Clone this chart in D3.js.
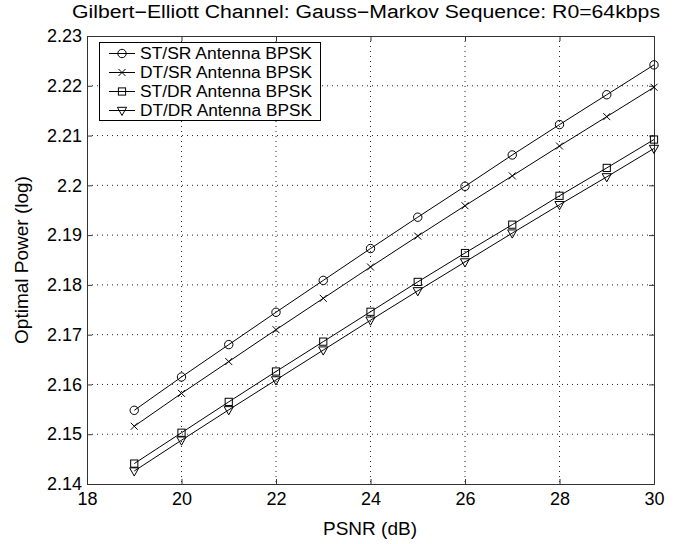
<!DOCTYPE html>
<html>
<head>
<meta charset="utf-8">
<title>Gilbert-Elliott Channel</title>
<style>
	body { margin: 0; background: #fff; }
	text { font-family: "Liberation Sans", Arial, sans-serif; fill: #000; }
	.grid line { stroke: #222; stroke-width: 1; stroke-dasharray: 1,4; }
	.series { fill: none; stroke: #000; stroke-width: 1; }
	.marker { fill: none; stroke: #000; stroke-width: 1; }
	.axis path, .axis line { stroke: #333; }
</style>
</head>
<body>
<svg class="chart" width="677" height="544"></svg>
<script src="https://d3js.org/d3.v7.min.js"></script>
<script>
var psnr = [19, 20, 21, 22, 23, 24, 25, 26, 27, 28, 29, 30];
var stsr = [2.1548, 2.1615, 2.1680, 2.1745, 2.1809, 2.1873, 2.1936, 2.1998, 2.2061, 2.2122, 2.2182, 2.2242];
var dtsr = [2.1516, 2.1582, 2.1646, 2.1710, 2.1773, 2.1836, 2.1898, 2.1959, 2.2019, 2.2079, 2.2138, 2.2197];
var stdr = [2.1441, 2.1503, 2.1565, 2.1626, 2.1686, 2.1746, 2.1806, 2.1864, 2.1921, 2.1979, 2.2035, 2.2092];
var dtdr = [2.1426, 2.1488, 2.1549, 2.1609, 2.1669, 2.1729, 2.1788, 2.1846, 2.1904, 2.1961, 2.2017, 2.2074];
var seriesNames = ["ST/SR Antenna BPSK", "DT/SR Antenna BPSK", "ST/DR Antenna BPSK", "DT/DR Antenna BPSK"];
var xTicks = [18, 20, 22, 24, 26, 28, 30];
var yTicks = [2.14, 2.15, 2.16, 2.17, 2.18, 2.19, 2.2, 2.21, 2.22, 2.23];
var yTickLabels = ["2.14", "2.15", "2.16", "2.17", "2.18", "2.19", "2.2", "2.21", "2.22", "2.23"];

var plotLeft = 87, plotRight = 654, plotTop = 36, plotBottom = 484;
var svg = d3.select(".chart");

var x = d3.scaleLinear().domain([18, 30]).range([plotLeft, plotRight]);
var y = d3.scaleLinear().domain([2.14, 2.23]).range([plotBottom, plotTop]);

// grid
var grid = svg.append("g").attr("class", "grid");
grid.selectAll("line.gx")
	.data(xTicks.slice(1, -1))
	.enter().append("line")
		.attr("class", "gx")
		.attr("x1", function(d) { return x(d); })
		.attr("x2", function(d) { return x(d); })
		.attr("y1", plotTop)
		.attr("y2", plotBottom);
grid.selectAll("line.gy")
	.data(yTicks.slice(1, -1))
	.enter().append("line")
		.attr("class", "gy")
		.attr("x1", plotLeft)
		.attr("x2", plotRight)
		.attr("y1", function(d) { return y(d); })
		.attr("y2", function(d) { return y(d); });

// axes, ticks inward on all four sides
svg.append("g").attr("class", "axis")
	.attr("transform", "translate(0," + plotBottom + ")")
	.call(d3.axisBottom(x).tickValues(xTicks).tickSize(-5).tickPadding(6))
	.call(function(g) { g.selectAll("text").attr("font-size", 18).attr("dy", "0.85em"); });
svg.append("g").attr("class", "axis")
	.attr("transform", "translate(0," + plotTop + ")")
	.call(d3.axisTop(x).tickValues(xTicks).tickSize(-5).tickFormat(""));
svg.append("g").attr("class", "axis")
	.attr("transform", "translate(" + plotLeft + ",0)")
	.call(d3.axisLeft(y).tickValues(yTicks).tickSize(-5).tickPadding(5)
		.tickFormat(function(d, i) { return yTickLabels[i]; }))
	.call(function(g) { g.selectAll("text").attr("font-size", 18); });
svg.append("g").attr("class", "axis")
	.attr("transform", "translate(" + plotRight + ",0)")
	.call(d3.axisRight(y).tickValues(yTicks).tickSize(-5).tickFormat(""));
svg.selectAll(".axis path").attr("fill", "none");

// series
var allSeries = [stsr, dtsr, stdr, dtdr];
var shapes = ["circle", "cross", "square", "triangle"];

function drawMarker(g, shape, cx, cy) {
	if (shape == "circle") {
		g.append("circle").attr("class", "marker").attr("cx", cx).attr("cy", cy).attr("r", 4.2);
	} else if (shape == "cross") {
		g.append("path").attr("class", "marker")
			.attr("d", "M" + (cx - 3.5) + "," + (cy - 3.5) + "L" + (cx + 3.5) + "," + (cy + 3.5) +
				"M" + (cx - 3.5) + "," + (cy + 3.5) + "L" + (cx + 3.5) + "," + (cy - 3.5));
	} else if (shape == "square") {
		g.append("rect").attr("class", "marker").attr("x", cx - 3.6).attr("y", cy - 3.6)
			.attr("width", 7.2).attr("height", 7.2);
	} else {
		g.append("path").attr("class", "marker")
			.attr("d", "M" + (cx - 4.6) + "," + (cy - 3.2) + "L" + (cx + 4.6) + "," + (cy - 3.2) +
				"L" + cx + "," + (cy + 5) + "Z");
	}
}

var line = d3.line()
	.x(function(d, i) { return x(psnr[i]); })
	.y(function(d) { return y(d); });

allSeries.forEach(function(vals, k) {
	var g = svg.append("g");
	g.append("path").attr("class", "series").attr("d", line(vals));
	vals.forEach(function(v, i) { drawMarker(g, shapes[k], x(psnr[i]), y(v)); });
});

// legend
var legend = svg.append("g");
legend.append("rect")
	.attr("x", 99.5).attr("y", 42.5).attr("width", 221).attr("height", 78)
	.attr("fill", "#fff").attr("stroke", "#000").attr("stroke-width", 1);
seriesNames.forEach(function(name, k) {
	var ly = 53.5 + k * 19;
	legend.append("line").attr("x1", 109).attr("x2", 135).attr("y1", ly).attr("y2", ly)
		.attr("stroke", "#000");
	drawMarker(legend, shapes[k], 122, ly);
	legend.append("text").attr("x", 140).attr("y", ly).attr("dy", "0.36em")
		.attr("font-size", 16).attr("textLength", 172).attr("lengthAdjust", "spacingAndGlyphs")
		.text(name);
});

// titles
svg.append("text").attr("x", 366).attr("y", 12).attr("dy", "0.36em")
	.attr("text-anchor", "middle").attr("font-size", 18)
	.attr("textLength", 588).attr("lengthAdjust", "spacingAndGlyphs")
	.text("Gilbert\u2212Elliott Channel: Gauss\u2212Markov Sequence: R0=64kbps");
svg.append("text").attr("x", 370).attr("y", 528).attr("dy", "0.36em")
	.attr("text-anchor", "middle").attr("font-size", 19)
	.text("PSNR (dB)");
svg.append("text").attr("transform", "translate(21,260) rotate(-90)")
	.attr("dy", "0.36em").attr("text-anchor", "middle").attr("font-size", 19)
	.text("Optimal Power (log)");
</script>
</body>
</html>
